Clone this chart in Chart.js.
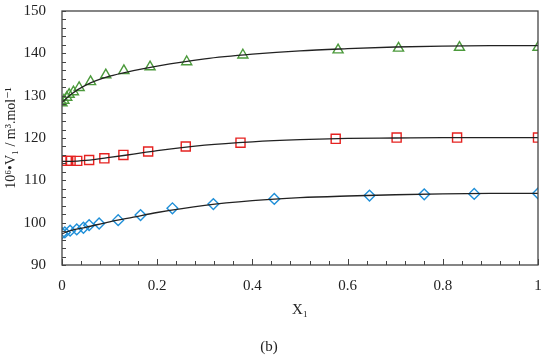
<!DOCTYPE html>
<html>
<head>
<meta charset="utf-8">
<script src="https://cdn.jsdelivr.net/npm/chart.js@4"></script>
<style>
  html, body { margin: 0; padding: 0; background: #fff; }
  #wrap { width: 550px; height: 359px; }
</style>
</head>
<body>
<div id="wrap"><canvas id="volumeChart"></canvas></div>
<script>
// measured points (triangles, squares, diamonds)
const xTri = [0, 0.004, 0.01, 0.015, 0.024, 0.036, 0.06, 0.092, 0.13, 0.185, 0.262, 0.38, 0.58, 0.707, 0.835, 1.0];
const yTri = [128.3, 128.9, 129.6, 130.3, 130.9, 131.9, 133.3, 134.9, 135.9, 136.8, 138.0, 139.6, 140.8, 141.2, 141.4, 141.4];
const xSq = [0, 0.01, 0.018, 0.032, 0.057, 0.089, 0.129, 0.181, 0.26, 0.375, 0.575, 0.703, 0.83, 1.0];
const ySq = [114.6, 114.6, 114.6, 114.6, 114.8, 115.2, 116.0, 116.8, 118.0, 118.9, 119.8, 120.1, 120.1, 120.1];
const xDia = [0, 0.006, 0.017, 0.031, 0.045, 0.057, 0.078, 0.118, 0.165, 0.232, 0.318, 0.446, 0.646, 0.761, 0.866, 1.0];
const yDia = [97.5, 97.7, 98.1, 98.4, 98.8, 99.4, 99.8, 100.6, 101.8, 103.4, 104.4, 105.6, 106.4, 106.7, 106.8, 106.9];

// fitted curves
const fitX = [0, 0.02, 0.05, 0.1, 0.15, 0.2, 0.3, 0.4, 0.5, 0.6, 0.7, 0.8, 0.9, 1.0];
const fitTri = [128.4, 130.4, 132.5, 134.6, 135.9, 137.0, 138.7, 139.8, 140.6, 141.1, 141.5, 141.7, 141.8, 141.8];
const fitSq = [114.5, 114.5, 114.7, 115.4, 116.2, 117.0, 118.3, 119.1, 119.6, 119.9, 120.0, 120.1, 120.1, 120.1];
const fitDia = [97.4, 98.2, 98.9, 100.2, 101.3, 102.4, 104.1, 105.2, 105.9, 106.3, 106.6, 106.8, 106.9, 106.9];

const toPts = (xs, ys) => xs.map((x, i) => ({ x: x, y: ys[i] }));

const serif = "'Liberation Serif', 'DejaVu Serif', serif";
const axisColor = '#444';
const textColor = '#222';

// box frame + inward tick marks
const framePlugin = {
    id: 'frame',
    afterDraw(chart) {
        const ctx = chart.ctx;
        const a = chart.chartArea;
        const xs = chart.scales.x, ys = chart.scales.y;
        ctx.save();
        ctx.strokeStyle = axisColor;
        ctx.lineWidth = 1.3;
        ctx.strokeRect(a.left, a.top, a.right - a.left, a.bottom - a.top);
        ctx.lineWidth = 1;
        ctx.beginPath();
        xs.ticks.forEach(t => {
            const px = Math.round(xs.getPixelForValue(t.value)) + 0.5;
            const major = Math.abs(t.value * 5 - Math.round(t.value * 5)) < 1e-6;
            ctx.moveTo(px, a.bottom);
            ctx.lineTo(px, a.bottom - (major ? 6 : 4));
        });
        ys.ticks.forEach(t => {
            const py = Math.round(ys.getPixelForValue(t.value)) + 0.5;
            ctx.moveTo(a.left, py);
            ctx.lineTo(a.left + 4, py);
        });
        ctx.stroke();
        ctx.restore();
    }
};

const lineStyle = {
    borderColor: '#222',
    borderWidth: 1.3,
    pointRadius: 0,
    showLine: true,
    fill: false,
    cubicInterpolationMode: 'monotone'
};

const ctx = document.getElementById('volumeChart').getContext('2d');
const volumeChart = new Chart(ctx, {
    type: 'scatter',
    data: {
        datasets: [
            Object.assign({ data: toPts(fitX, fitTri) }, lineStyle),
            Object.assign({ data: toPts(fitX, fitSq) }, lineStyle),
            Object.assign({ data: toPts(fitX, fitDia) }, lineStyle),
            {
                data: toPts(xTri, yTri),
                pointStyle: 'triangle',
                pointRadius: 5.8,
                borderColor: '#4c9a3c',
                backgroundColor: 'rgba(0,0,0,0)',
                borderWidth: 1.4
            },
            {
                data: toPts(xSq, ySq),
                pointStyle: 'rect',
                pointRadius: 6.4,
                borderColor: '#e52220',
                backgroundColor: 'rgba(0,0,0,0)',
                borderWidth: 1.4
            },
            {
                data: toPts(xDia, yDia),
                pointStyle: 'rectRot',
                pointRadius: 5.4,
                borderColor: '#1f8fd8',
                backgroundColor: 'rgba(0,0,0,0)',
                borderWidth: 1.4
            }
        ]
    },
    options: {
        responsive: true,
        maintainAspectRatio: false,
        animation: false,
        layout: { padding: { left: 0, right: 12, top: 11, bottom: 0 } },
        plugins: {
            legend: { display: false },
            tooltip: { enabled: false },
            title: {
                display: true,
                text: '(b)',
                position: 'bottom',
                color: textColor,
                font: { family: serif, size: 15, weight: 'normal' },
                padding: { top: 8, bottom: 3 }
            }
        },
        scales: {
            x: {
                type: 'linear',
                min: 0,
                max: 1,
                afterFit: s => { s.height = 65; s.paddingLeft = 0; s.paddingRight = 0; },
                grid: { display: false, drawTicks: false },
                border: { display: false },
                ticks: {
                    stepSize: 0.04,
                    autoSkip: false,
                    maxRotation: 0,
                    padding: 12,
                    color: textColor,
                    font: { family: serif, size: 15 },
                    callback: v => {
                        const r = Math.round(v * 5);
                        return Math.abs(v * 5 - r) < 1e-6 ? String(r / 5) : '';
                    }
                },
                title: {
                    display: true,
                    text: 'X\u2081',
                    color: textColor,
                    font: { family: serif, size: 15 },
                    padding: { top: 6, bottom: 11 }
                }
            },
            y: {
                min: 90,
                max: 150,
                afterFit: s => { s.width = 62; s.paddingTop = 0; s.paddingBottom = 0; },
                grid: { display: false, drawTicks: false },
                border: { display: false },
                ticks: {
                    stepSize: 2,
                    autoSkip: false,
                    padding: 16,
                    color: textColor,
                    font: { family: serif, size: 15 },
                    callback: v => (v % 10 === 0 ? String(v) : '')
                },
                title: {
                    display: true,
                    text: '10\u2076\u2022V\u2081 / m\u00b3.mol\u207b\u00b9',
                    color: textColor,
                    font: { family: serif, size: 14 },
                    padding: { top: 3, bottom: 0 }
                }
            }
        }
    },
    plugins: [framePlugin]
});
</script>
</body>
</html>
